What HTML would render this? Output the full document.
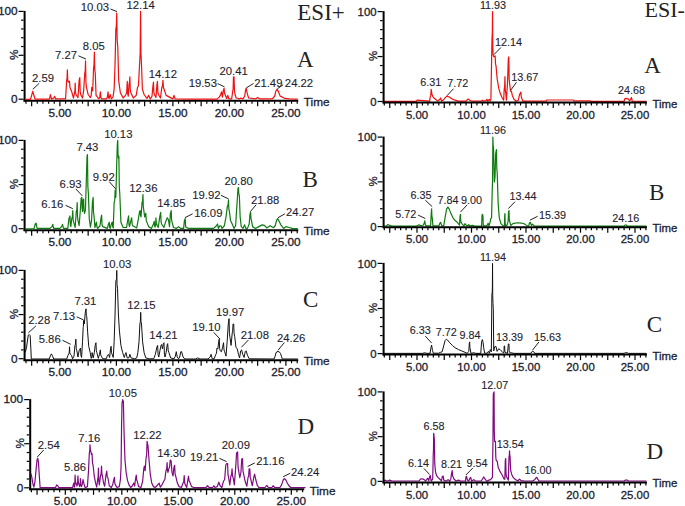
<!DOCTYPE html>
<html><head><meta charset="utf-8"><title>Chromatograms</title>
<style>
html,body{margin:0;padding:0;background:#fff;}
body{width:685px;height:506px;overflow:hidden;font-family:"Liberation Sans",sans-serif;}
svg{display:block;}
</style></head><body>
<svg width="685" height="506" viewBox="0 0 685 506">
<rect width="685" height="506" fill="#fff"/>
<g stroke="#000" fill="none">
<line x1="24.6" y1="10.9" x2="24.6" y2="101.6" stroke-width="2"/>
<line x1="18.6" y1="99.2" x2="23.6" y2="99.2" stroke-width="1.2"/>
<line x1="21.1" y1="90.42" x2="23.6" y2="90.42" stroke-width="1.2"/>
<line x1="21.1" y1="81.64" x2="23.6" y2="81.64" stroke-width="1.2"/>
<line x1="21.1" y1="72.86" x2="23.6" y2="72.86" stroke-width="1.2"/>
<line x1="21.1" y1="64.08" x2="23.6" y2="64.08" stroke-width="1.2"/>
<line x1="18.6" y1="55.3" x2="23.6" y2="55.3" stroke-width="1.2"/>
<line x1="21.1" y1="46.52" x2="23.6" y2="46.52" stroke-width="1.2"/>
<line x1="21.1" y1="37.74" x2="23.6" y2="37.74" stroke-width="1.2"/>
<line x1="21.1" y1="28.96" x2="23.6" y2="28.96" stroke-width="1.2"/>
<line x1="21.1" y1="20.18" x2="23.6" y2="20.18" stroke-width="1.2"/>
<line x1="18.6" y1="11.4" x2="23.6" y2="11.4" stroke-width="1.2"/>
<line x1="23.6" y1="100.7" x2="298.26" y2="100.7" stroke-width="2"/>
<line x1="26" y1="101.2" x2="26" y2="103.7" stroke-width="1.2"/>
<line x1="31.65" y1="101.2" x2="31.65" y2="106.2" stroke-width="1.2"/>
<line x1="37.3" y1="101.2" x2="37.3" y2="103.7" stroke-width="1.2"/>
<line x1="42.95" y1="101.2" x2="42.95" y2="103.7" stroke-width="1.2"/>
<line x1="48.6" y1="101.2" x2="48.6" y2="103.7" stroke-width="1.2"/>
<line x1="54.25" y1="101.2" x2="54.25" y2="103.7" stroke-width="1.2"/>
<line x1="59.9" y1="101.2" x2="59.9" y2="106.2" stroke-width="1.2"/>
<line x1="65.55" y1="101.2" x2="65.55" y2="103.7" stroke-width="1.2"/>
<line x1="71.2" y1="101.2" x2="71.2" y2="103.7" stroke-width="1.2"/>
<line x1="76.85" y1="101.2" x2="76.85" y2="103.7" stroke-width="1.2"/>
<line x1="82.5" y1="101.2" x2="82.5" y2="103.7" stroke-width="1.2"/>
<line x1="88.15" y1="101.2" x2="88.15" y2="106.2" stroke-width="1.2"/>
<line x1="93.8" y1="101.2" x2="93.8" y2="103.7" stroke-width="1.2"/>
<line x1="99.45" y1="101.2" x2="99.45" y2="103.7" stroke-width="1.2"/>
<line x1="105.1" y1="101.2" x2="105.1" y2="103.7" stroke-width="1.2"/>
<line x1="110.75" y1="101.2" x2="110.75" y2="103.7" stroke-width="1.2"/>
<line x1="116.4" y1="101.2" x2="116.4" y2="106.2" stroke-width="1.2"/>
<line x1="122.05" y1="101.2" x2="122.05" y2="103.7" stroke-width="1.2"/>
<line x1="127.7" y1="101.2" x2="127.7" y2="103.7" stroke-width="1.2"/>
<line x1="133.35" y1="101.2" x2="133.35" y2="103.7" stroke-width="1.2"/>
<line x1="139" y1="101.2" x2="139" y2="103.7" stroke-width="1.2"/>
<line x1="144.65" y1="101.2" x2="144.65" y2="106.2" stroke-width="1.2"/>
<line x1="150.3" y1="101.2" x2="150.3" y2="103.7" stroke-width="1.2"/>
<line x1="155.95" y1="101.2" x2="155.95" y2="103.7" stroke-width="1.2"/>
<line x1="161.6" y1="101.2" x2="161.6" y2="103.7" stroke-width="1.2"/>
<line x1="167.25" y1="101.2" x2="167.25" y2="103.7" stroke-width="1.2"/>
<line x1="172.9" y1="101.2" x2="172.9" y2="106.2" stroke-width="1.2"/>
<line x1="178.55" y1="101.2" x2="178.55" y2="103.7" stroke-width="1.2"/>
<line x1="184.2" y1="101.2" x2="184.2" y2="103.7" stroke-width="1.2"/>
<line x1="189.85" y1="101.2" x2="189.85" y2="103.7" stroke-width="1.2"/>
<line x1="195.5" y1="101.2" x2="195.5" y2="103.7" stroke-width="1.2"/>
<line x1="201.15" y1="101.2" x2="201.15" y2="106.2" stroke-width="1.2"/>
<line x1="206.8" y1="101.2" x2="206.8" y2="103.7" stroke-width="1.2"/>
<line x1="212.45" y1="101.2" x2="212.45" y2="103.7" stroke-width="1.2"/>
<line x1="218.1" y1="101.2" x2="218.1" y2="103.7" stroke-width="1.2"/>
<line x1="223.75" y1="101.2" x2="223.75" y2="103.7" stroke-width="1.2"/>
<line x1="229.4" y1="101.2" x2="229.4" y2="106.2" stroke-width="1.2"/>
<line x1="235.05" y1="101.2" x2="235.05" y2="103.7" stroke-width="1.2"/>
<line x1="240.7" y1="101.2" x2="240.7" y2="103.7" stroke-width="1.2"/>
<line x1="246.35" y1="101.2" x2="246.35" y2="103.7" stroke-width="1.2"/>
<line x1="252" y1="101.2" x2="252" y2="103.7" stroke-width="1.2"/>
<line x1="257.65" y1="101.2" x2="257.65" y2="106.2" stroke-width="1.2"/>
<line x1="263.3" y1="101.2" x2="263.3" y2="103.7" stroke-width="1.2"/>
<line x1="268.95" y1="101.2" x2="268.95" y2="103.7" stroke-width="1.2"/>
<line x1="274.6" y1="101.2" x2="274.6" y2="103.7" stroke-width="1.2"/>
<line x1="280.25" y1="101.2" x2="280.25" y2="103.7" stroke-width="1.2"/>
<line x1="285.9" y1="101.2" x2="285.9" y2="106.2" stroke-width="1.2"/>
<line x1="291.55" y1="101.2" x2="291.55" y2="103.7" stroke-width="1.2"/>
<line x1="297.2" y1="101.2" x2="297.2" y2="103.7" stroke-width="1.2"/>
</g>
<polyline points="24.98,99.36 30.52,99.36 31.88,94.5 32.67,91.4 33.68,94.5 35.04,99.09 49.5,99.09 50.41,94.67 51.54,99.09 53.69,98.03 54.59,96.26 55.61,98.92 65.55,98.92 66.68,80.35 67.07,78.23 67.36,69.74 67.74,79.64 68.26,82.12 69.5,81.24 69.98,87.6 70.64,89.19 71.77,91.84 73.46,98.03 74.59,92.73 74.92,90.78 75.16,83 75.49,92.2 75.95,94.5 77.98,97.59 79.11,80.35 79.79,77.7 80.17,91.14 80.69,94.5 82.5,98.03 83.63,90.96 84.76,73.28 85.22,70.8 85.55,60.9 85.93,82.12 86.45,87.42 88.15,94.5 90.41,97.59 91.2,95.56 91.77,87.42 92.67,90.96 93.57,67.98 94.03,64.79 94.37,52.06 94.74,69.04 95.27,73.28 96.06,95.38 98.88,98.92 99.74,97.5 100.35,91.84 100.92,97.5 101.71,98.92 106.23,98.92 107.28,97.5 108.04,91.84 108.47,97.15 109.06,98.47 110.19,94.5 111.32,98.92 113.01,97.15 114.14,89.19 115.04,64.44 115.83,29.08 116.36,25.9 116.74,13.17 117.17,40.04 117.76,46.76 118.66,80.35 120.35,92.73 123.18,98.03 126,94.5 126.73,91.84 127.25,81.24 127.68,93.26 128.27,96.26 129.06,83.89 129.51,82.47 129.85,76.82 130.27,89.55 130.86,92.73 133.35,98.03 136.18,95.38 137.53,87.42 138.44,85.66 139.56,64.44 140.15,53.83 140.58,11.4 140.96,53.83 141.49,64.44 142.39,89.19 144.09,94.5 146.91,98.47 148.6,95.38 150.3,98.92 152,96.26 152.79,87.42 153.46,82.12 153.84,92.02 154.37,94.5 155.95,97.59 156.85,85.66 157.42,81.24 157.85,91.84 158.44,94.5 160.47,98.03 161.83,87.42 162.48,86.01 162.96,80.35 163.43,87.42 164.09,89.19 166.12,95.38 169.51,97.15 172.9,98.92 173.92,95.38 175.16,98.92 189.85,99.09 216.97,99.09 219.23,97.15 220.36,95.38 221.49,91.84 222.39,97.15 223.19,90.96 224.09,88.31 224.52,93.26 225.11,94.5 226.58,98.47 227.82,95.38 228.84,98.92 231.66,98.92 232.79,90.96 233.18,88.13 233.47,76.82 234.03,76.82 234.46,90.96 235.05,94.5 236.18,98.03 239.57,98.92 240.7,98.03 242.96,98.92 244.66,96.26 245.56,90.08 246.24,88.31 247.25,93.61 248.61,98.03 255.39,98.92 257.65,97.59 259.91,98.92 272.34,98.92 274.6,96.26 275.96,90.96 277.09,89.19 278.56,91.84 280.25,96.26 282.51,97.15 284.77,98.47 289.29,98.92 297.76,99.09" fill="none" stroke="#f01010" stroke-width="1.2" stroke-linejoin="round"/>
<g font-family="Liberation Sans, sans-serif" font-size="11.8" fill="#201c30" stroke="#201c30" stroke-width="0.3">
<text x="59.9" y="117.3" text-anchor="middle">5.00</text>
<text x="116.4" y="117.3" text-anchor="middle">10.00</text>
<text x="172.9" y="117.3" text-anchor="middle">15.00</text>
<text x="229.4" y="117.3" text-anchor="middle">20.00</text>
<text x="285.9" y="117.3" text-anchor="middle">25.00</text>
<text x="17.6" y="15" text-anchor="end">100</text>
<text x="17.6" y="103.3" text-anchor="end">0</text>
<text transform="translate(18,54.8) rotate(-90)" text-anchor="middle">%</text>
<text x="303.76" y="105.9">Time</text>
<text x="94.9" y="11.3" text-anchor="middle" font-size="11.3" stroke-width="0.1" fill="#26222c">10.03</text>
<text x="140.7" y="8.7" text-anchor="middle" font-size="11.3" stroke-width="0.1" fill="#26222c">12.14</text>
<text x="93.8" y="50.4" text-anchor="middle" font-size="11.3" stroke-width="0.1" fill="#26222c">8.05</text>
<text x="66" y="58.6" text-anchor="middle" font-size="11.3" stroke-width="0.1" fill="#26222c">7.27</text>
<text x="43" y="82" text-anchor="middle" font-size="11.3" stroke-width="0.1" fill="#26222c">2.59</text>
<text x="162.8" y="77.6" text-anchor="middle" font-size="11.3" stroke-width="0.1" fill="#26222c">14.12</text>
<text x="202.8" y="86.9" text-anchor="middle" font-size="11.3" stroke-width="0.1" fill="#26222c">19.53</text>
<text x="233.6" y="75.3" text-anchor="middle" font-size="11.3" stroke-width="0.1" fill="#26222c">20.41</text>
<text x="268.3" y="86.9" text-anchor="middle" font-size="11.3" stroke-width="0.1" fill="#26222c">21.49</text>
<text x="299" y="86.9" text-anchor="middle" font-size="11.3" stroke-width="0.1" fill="#26222c">24.22</text>
</g>
<g stroke="#222" stroke-width="1" fill="none">
<line x1="110.5" y1="9" x2="117" y2="11.6"/>
<line x1="78.4" y1="55.8" x2="86.1" y2="59.1"/>
<line x1="39.2" y1="83.3" x2="32.8" y2="89.3"/>
<line x1="217.6" y1="83.5" x2="224.5" y2="86.9"/>
<line x1="253.5" y1="83.5" x2="246.3" y2="87.9"/>
<line x1="283.1" y1="84.8" x2="277.5" y2="88.7"/>
</g>
<g stroke="#000" fill="none">
<line x1="24.6" y1="139.9" x2="24.6" y2="231.1" stroke-width="2"/>
<line x1="18.6" y1="228.7" x2="23.6" y2="228.7" stroke-width="1.2"/>
<line x1="21.1" y1="219.87" x2="23.6" y2="219.87" stroke-width="1.2"/>
<line x1="21.1" y1="211.04" x2="23.6" y2="211.04" stroke-width="1.2"/>
<line x1="21.1" y1="202.21" x2="23.6" y2="202.21" stroke-width="1.2"/>
<line x1="21.1" y1="193.38" x2="23.6" y2="193.38" stroke-width="1.2"/>
<line x1="18.6" y1="184.55" x2="23.6" y2="184.55" stroke-width="1.2"/>
<line x1="21.1" y1="175.72" x2="23.6" y2="175.72" stroke-width="1.2"/>
<line x1="21.1" y1="166.89" x2="23.6" y2="166.89" stroke-width="1.2"/>
<line x1="21.1" y1="158.06" x2="23.6" y2="158.06" stroke-width="1.2"/>
<line x1="21.1" y1="149.23" x2="23.6" y2="149.23" stroke-width="1.2"/>
<line x1="18.6" y1="140.4" x2="23.6" y2="140.4" stroke-width="1.2"/>
<line x1="23.6" y1="230.2" x2="298.26" y2="230.2" stroke-width="2"/>
<line x1="26" y1="230.7" x2="26" y2="233.2" stroke-width="1.2"/>
<line x1="31.65" y1="230.7" x2="31.65" y2="235.7" stroke-width="1.2"/>
<line x1="37.3" y1="230.7" x2="37.3" y2="233.2" stroke-width="1.2"/>
<line x1="42.95" y1="230.7" x2="42.95" y2="233.2" stroke-width="1.2"/>
<line x1="48.6" y1="230.7" x2="48.6" y2="233.2" stroke-width="1.2"/>
<line x1="54.25" y1="230.7" x2="54.25" y2="233.2" stroke-width="1.2"/>
<line x1="59.9" y1="230.7" x2="59.9" y2="235.7" stroke-width="1.2"/>
<line x1="65.55" y1="230.7" x2="65.55" y2="233.2" stroke-width="1.2"/>
<line x1="71.2" y1="230.7" x2="71.2" y2="233.2" stroke-width="1.2"/>
<line x1="76.85" y1="230.7" x2="76.85" y2="233.2" stroke-width="1.2"/>
<line x1="82.5" y1="230.7" x2="82.5" y2="233.2" stroke-width="1.2"/>
<line x1="88.15" y1="230.7" x2="88.15" y2="235.7" stroke-width="1.2"/>
<line x1="93.8" y1="230.7" x2="93.8" y2="233.2" stroke-width="1.2"/>
<line x1="99.45" y1="230.7" x2="99.45" y2="233.2" stroke-width="1.2"/>
<line x1="105.1" y1="230.7" x2="105.1" y2="233.2" stroke-width="1.2"/>
<line x1="110.75" y1="230.7" x2="110.75" y2="233.2" stroke-width="1.2"/>
<line x1="116.4" y1="230.7" x2="116.4" y2="235.7" stroke-width="1.2"/>
<line x1="122.05" y1="230.7" x2="122.05" y2="233.2" stroke-width="1.2"/>
<line x1="127.7" y1="230.7" x2="127.7" y2="233.2" stroke-width="1.2"/>
<line x1="133.35" y1="230.7" x2="133.35" y2="233.2" stroke-width="1.2"/>
<line x1="139" y1="230.7" x2="139" y2="233.2" stroke-width="1.2"/>
<line x1="144.65" y1="230.7" x2="144.65" y2="235.7" stroke-width="1.2"/>
<line x1="150.3" y1="230.7" x2="150.3" y2="233.2" stroke-width="1.2"/>
<line x1="155.95" y1="230.7" x2="155.95" y2="233.2" stroke-width="1.2"/>
<line x1="161.6" y1="230.7" x2="161.6" y2="233.2" stroke-width="1.2"/>
<line x1="167.25" y1="230.7" x2="167.25" y2="233.2" stroke-width="1.2"/>
<line x1="172.9" y1="230.7" x2="172.9" y2="235.7" stroke-width="1.2"/>
<line x1="178.55" y1="230.7" x2="178.55" y2="233.2" stroke-width="1.2"/>
<line x1="184.2" y1="230.7" x2="184.2" y2="233.2" stroke-width="1.2"/>
<line x1="189.85" y1="230.7" x2="189.85" y2="233.2" stroke-width="1.2"/>
<line x1="195.5" y1="230.7" x2="195.5" y2="233.2" stroke-width="1.2"/>
<line x1="201.15" y1="230.7" x2="201.15" y2="235.7" stroke-width="1.2"/>
<line x1="206.8" y1="230.7" x2="206.8" y2="233.2" stroke-width="1.2"/>
<line x1="212.45" y1="230.7" x2="212.45" y2="233.2" stroke-width="1.2"/>
<line x1="218.1" y1="230.7" x2="218.1" y2="233.2" stroke-width="1.2"/>
<line x1="223.75" y1="230.7" x2="223.75" y2="233.2" stroke-width="1.2"/>
<line x1="229.4" y1="230.7" x2="229.4" y2="235.7" stroke-width="1.2"/>
<line x1="235.05" y1="230.7" x2="235.05" y2="233.2" stroke-width="1.2"/>
<line x1="240.7" y1="230.7" x2="240.7" y2="233.2" stroke-width="1.2"/>
<line x1="246.35" y1="230.7" x2="246.35" y2="233.2" stroke-width="1.2"/>
<line x1="252" y1="230.7" x2="252" y2="233.2" stroke-width="1.2"/>
<line x1="257.65" y1="230.7" x2="257.65" y2="235.7" stroke-width="1.2"/>
<line x1="263.3" y1="230.7" x2="263.3" y2="233.2" stroke-width="1.2"/>
<line x1="268.95" y1="230.7" x2="268.95" y2="233.2" stroke-width="1.2"/>
<line x1="274.6" y1="230.7" x2="274.6" y2="233.2" stroke-width="1.2"/>
<line x1="280.25" y1="230.7" x2="280.25" y2="233.2" stroke-width="1.2"/>
<line x1="285.9" y1="230.7" x2="285.9" y2="235.7" stroke-width="1.2"/>
<line x1="291.55" y1="230.7" x2="291.55" y2="233.2" stroke-width="1.2"/>
<line x1="297.2" y1="230.7" x2="297.2" y2="233.2" stroke-width="1.2"/>
</g>
<polyline points="24.98,228.86 33.91,228.86 35.27,223.97 36.06,223.08 37.07,228.41 49.73,228.41 51.99,226.63 52.78,224.41 53.57,228.41 59.9,228.41 61.6,226.63 62.5,224.41 63.52,228.41 67.81,228.41 68.94,218.63 69.96,215.96 70.34,224.5 70.86,226.63 71.77,218.63 72.35,217.03 72.78,210.63 73.16,219.88 73.69,222.19 75.16,227.52 76.28,211.52 76.81,209.74 77.19,202.63 77.52,216.85 77.98,220.41 79.11,225.74 80.24,211.52 81.14,198.19 81.82,197.3 82.11,208.68 82.5,211.52 83.06,199.96 83.63,199.07 84.01,210.45 84.53,213.3 85.44,209.74 86.45,175.96 87.02,156.4 87.47,154.62 87.85,185.92 88.38,193.74 89.28,218.63 90.41,227.08 91.54,220.41 92.44,202.63 93.12,197.3 93.5,212.23 94.03,215.96 94.93,227.52 96.4,222.19 96.97,227.17 97.75,228.41 100.02,225.74 100.92,218.63 101.6,215.08 102.02,224.32 102.61,226.63 107.36,228.41 108.49,223.97 109.28,222.19 109.66,227.17 110.19,228.41 111.65,223.08 112.33,222.19 112.71,226.81 113.24,227.97 114.14,202.63 114.73,200.14 115.16,190.18 115.44,195.87 115.83,197.3 116.63,167.07 117.3,144.84 117.76,140.4 118.04,154.62 118.43,158.18 118.89,156.4 119.27,186.27 119.79,193.74 120.92,222.19 123.18,227.52 126.57,227.52 127.7,220.41 128.6,215.96 128.98,224.5 129.51,226.63 130.53,222.19 131.66,217.74 132.13,224.14 132.78,225.74 136.74,227.97 138.44,218.63 139.56,211.52 140.13,210.63 140.51,215.61 141.03,216.85 142.05,202.63 142.58,201.03 142.96,194.63 143.29,206.72 143.75,209.74 144.65,216.85 145.78,213.3 146.25,220.41 146.91,222.19 148.6,226.63 151.43,228.41 153.46,223.97 154.25,221.3 154.59,225.92 155.05,227.08 155.57,225.21 155.95,217.74 156.33,223.43 156.85,224.85 158.21,227.52 159.91,215.96 160.7,212.41 161.08,221.65 161.6,223.97 163.86,227.52 166.12,220.41 167.25,217.74 168.38,219.52 169.51,226.63 170.41,213.3 171.21,210.63 171.58,219.88 172.11,222.19 173.47,227.52 176.29,228.41 178.55,226.63 180.81,228.41 183.63,228.41 184.43,220.41 185.22,218.63 185.6,225.74 186.12,227.52 188.72,228.41 213.58,228.41 216.41,225.74 217.53,223.97 218.44,228.41 219.79,225.74 220.93,225.74 222.06,228.41 224.32,225.74 226.01,216.85 227.37,206.19 228.02,204.94 228.5,199.96 228.88,209.21 229.4,211.52 230.53,220.41 232.23,223.97 233.92,228.41 235.62,225.74 237.08,202.63 237.99,188.41 238.44,187.52 238.82,193.92 239.34,195.52 240.14,216.85 241.27,226.63 242.96,228.41 244.66,224.85 245.78,228.41 247.48,228.41 249.18,223.97 250.08,213.3 250.64,212.41 250.98,218.81 251.44,220.41 252.57,226.63 255.39,228.41 258.78,226.63 262.17,224.85 264.43,225.3 266.69,227.97 270.08,225.74 273.47,227.74 275.17,225.74 276.63,220.41 277.65,218.63 279.12,221.3 280.81,224.85 283.64,228.41 285.9,226.63 289.29,227.52 292.68,228.59 297.76,228.59" fill="none" stroke="#0f7a0f" stroke-width="1.2" stroke-linejoin="round"/>
<g font-family="Liberation Sans, sans-serif" font-size="11.8" fill="#201c30" stroke="#201c30" stroke-width="0.3">
<text x="59.9" y="245.6" text-anchor="middle">5.00</text>
<text x="116.4" y="245.6" text-anchor="middle">10.00</text>
<text x="172.9" y="245.6" text-anchor="middle">15.00</text>
<text x="229.4" y="245.6" text-anchor="middle">20.00</text>
<text x="285.9" y="245.6" text-anchor="middle">25.00</text>
<text x="17.6" y="144" text-anchor="end">100</text>
<text x="17.6" y="232.8" text-anchor="end">0</text>
<text transform="translate(18,184.05) rotate(-90)" text-anchor="middle">%</text>
<text x="303.76" y="235.4">Time</text>
<text x="118.3" y="137.5" text-anchor="middle" font-size="11.3" stroke-width="0.1" fill="#26222c">10.13</text>
<text x="87.4" y="151.1" text-anchor="middle" font-size="11.3" stroke-width="0.1" fill="#26222c">7.43</text>
<text x="103.7" y="181.2" text-anchor="middle" font-size="11.3" stroke-width="0.1" fill="#26222c">9.92</text>
<text x="70.6" y="187.9" text-anchor="middle" font-size="11.3" stroke-width="0.1" fill="#26222c">6.93</text>
<text x="52.3" y="208.2" text-anchor="middle" font-size="11.3" stroke-width="0.1" fill="#26222c">6.16</text>
<text x="143.3" y="191.5" text-anchor="middle" font-size="11.3" stroke-width="0.1" fill="#26222c">12.36</text>
<text x="171.3" y="207.1" text-anchor="middle" font-size="11.3" stroke-width="0.1" fill="#26222c">14.85</text>
<text x="208.3" y="216.6" text-anchor="middle" font-size="11.3" stroke-width="0.1" fill="#26222c">16.09</text>
<text x="206.4" y="198.6" text-anchor="middle" font-size="11.3" stroke-width="0.1" fill="#26222c">19.92</text>
<text x="238.6" y="185.3" text-anchor="middle" font-size="11.3" stroke-width="0.1" fill="#26222c">20.80</text>
<text x="265.1" y="204.3" text-anchor="middle" font-size="11.3" stroke-width="0.1" fill="#26222c">21.88</text>
<text x="300.1" y="215.9" text-anchor="middle" font-size="11.3" stroke-width="0.1" fill="#26222c">24.27</text>
</g>
<g stroke="#222" stroke-width="1" fill="none">
<line x1="109.3" y1="181.7" x2="115.7" y2="188.9"/>
<line x1="75.8" y1="188.9" x2="82.3" y2="195.8"/>
<line x1="65.6" y1="205.3" x2="72.8" y2="208.7"/>
<line x1="192.6" y1="213.8" x2="184.9" y2="217.7"/>
<line x1="220.9" y1="195.3" x2="228.6" y2="198.9"/>
<line x1="256.1" y1="204.8" x2="250.2" y2="211.8"/>
<line x1="284.9" y1="213.8" x2="278" y2="217.7"/>
</g>
<g stroke="#000" fill="none">
<line x1="24.6" y1="269.9" x2="24.6" y2="361.1" stroke-width="2"/>
<line x1="18.6" y1="358.7" x2="23.6" y2="358.7" stroke-width="1.2"/>
<line x1="21.1" y1="349.87" x2="23.6" y2="349.87" stroke-width="1.2"/>
<line x1="21.1" y1="341.04" x2="23.6" y2="341.04" stroke-width="1.2"/>
<line x1="21.1" y1="332.21" x2="23.6" y2="332.21" stroke-width="1.2"/>
<line x1="21.1" y1="323.38" x2="23.6" y2="323.38" stroke-width="1.2"/>
<line x1="18.6" y1="314.55" x2="23.6" y2="314.55" stroke-width="1.2"/>
<line x1="21.1" y1="305.72" x2="23.6" y2="305.72" stroke-width="1.2"/>
<line x1="21.1" y1="296.89" x2="23.6" y2="296.89" stroke-width="1.2"/>
<line x1="21.1" y1="288.06" x2="23.6" y2="288.06" stroke-width="1.2"/>
<line x1="21.1" y1="279.23" x2="23.6" y2="279.23" stroke-width="1.2"/>
<line x1="18.6" y1="270.4" x2="23.6" y2="270.4" stroke-width="1.2"/>
<line x1="23.6" y1="360.2" x2="298.26" y2="360.2" stroke-width="2"/>
<line x1="26" y1="360.7" x2="26" y2="363.2" stroke-width="1.2"/>
<line x1="31.65" y1="360.7" x2="31.65" y2="365.7" stroke-width="1.2"/>
<line x1="37.3" y1="360.7" x2="37.3" y2="363.2" stroke-width="1.2"/>
<line x1="42.95" y1="360.7" x2="42.95" y2="363.2" stroke-width="1.2"/>
<line x1="48.6" y1="360.7" x2="48.6" y2="363.2" stroke-width="1.2"/>
<line x1="54.25" y1="360.7" x2="54.25" y2="363.2" stroke-width="1.2"/>
<line x1="59.9" y1="360.7" x2="59.9" y2="365.7" stroke-width="1.2"/>
<line x1="65.55" y1="360.7" x2="65.55" y2="363.2" stroke-width="1.2"/>
<line x1="71.2" y1="360.7" x2="71.2" y2="363.2" stroke-width="1.2"/>
<line x1="76.85" y1="360.7" x2="76.85" y2="363.2" stroke-width="1.2"/>
<line x1="82.5" y1="360.7" x2="82.5" y2="363.2" stroke-width="1.2"/>
<line x1="88.15" y1="360.7" x2="88.15" y2="365.7" stroke-width="1.2"/>
<line x1="93.8" y1="360.7" x2="93.8" y2="363.2" stroke-width="1.2"/>
<line x1="99.45" y1="360.7" x2="99.45" y2="363.2" stroke-width="1.2"/>
<line x1="105.1" y1="360.7" x2="105.1" y2="363.2" stroke-width="1.2"/>
<line x1="110.75" y1="360.7" x2="110.75" y2="363.2" stroke-width="1.2"/>
<line x1="116.4" y1="360.7" x2="116.4" y2="365.7" stroke-width="1.2"/>
<line x1="122.05" y1="360.7" x2="122.05" y2="363.2" stroke-width="1.2"/>
<line x1="127.7" y1="360.7" x2="127.7" y2="363.2" stroke-width="1.2"/>
<line x1="133.35" y1="360.7" x2="133.35" y2="363.2" stroke-width="1.2"/>
<line x1="139" y1="360.7" x2="139" y2="363.2" stroke-width="1.2"/>
<line x1="144.65" y1="360.7" x2="144.65" y2="365.7" stroke-width="1.2"/>
<line x1="150.3" y1="360.7" x2="150.3" y2="363.2" stroke-width="1.2"/>
<line x1="155.95" y1="360.7" x2="155.95" y2="363.2" stroke-width="1.2"/>
<line x1="161.6" y1="360.7" x2="161.6" y2="363.2" stroke-width="1.2"/>
<line x1="167.25" y1="360.7" x2="167.25" y2="363.2" stroke-width="1.2"/>
<line x1="172.9" y1="360.7" x2="172.9" y2="365.7" stroke-width="1.2"/>
<line x1="178.55" y1="360.7" x2="178.55" y2="363.2" stroke-width="1.2"/>
<line x1="184.2" y1="360.7" x2="184.2" y2="363.2" stroke-width="1.2"/>
<line x1="189.85" y1="360.7" x2="189.85" y2="363.2" stroke-width="1.2"/>
<line x1="195.5" y1="360.7" x2="195.5" y2="363.2" stroke-width="1.2"/>
<line x1="201.15" y1="360.7" x2="201.15" y2="365.7" stroke-width="1.2"/>
<line x1="206.8" y1="360.7" x2="206.8" y2="363.2" stroke-width="1.2"/>
<line x1="212.45" y1="360.7" x2="212.45" y2="363.2" stroke-width="1.2"/>
<line x1="218.1" y1="360.7" x2="218.1" y2="363.2" stroke-width="1.2"/>
<line x1="223.75" y1="360.7" x2="223.75" y2="363.2" stroke-width="1.2"/>
<line x1="229.4" y1="360.7" x2="229.4" y2="365.7" stroke-width="1.2"/>
<line x1="235.05" y1="360.7" x2="235.05" y2="363.2" stroke-width="1.2"/>
<line x1="240.7" y1="360.7" x2="240.7" y2="363.2" stroke-width="1.2"/>
<line x1="246.35" y1="360.7" x2="246.35" y2="363.2" stroke-width="1.2"/>
<line x1="252" y1="360.7" x2="252" y2="363.2" stroke-width="1.2"/>
<line x1="257.65" y1="360.7" x2="257.65" y2="365.7" stroke-width="1.2"/>
<line x1="263.3" y1="360.7" x2="263.3" y2="363.2" stroke-width="1.2"/>
<line x1="268.95" y1="360.7" x2="268.95" y2="363.2" stroke-width="1.2"/>
<line x1="274.6" y1="360.7" x2="274.6" y2="363.2" stroke-width="1.2"/>
<line x1="280.25" y1="360.7" x2="280.25" y2="363.2" stroke-width="1.2"/>
<line x1="285.9" y1="360.7" x2="285.9" y2="365.7" stroke-width="1.2"/>
<line x1="291.55" y1="360.7" x2="291.55" y2="363.2" stroke-width="1.2"/>
<line x1="297.2" y1="360.7" x2="297.2" y2="363.2" stroke-width="1.2"/>
</g>
<polyline points="24.98,352.56 25.77,350.77 26.56,347.2 28.26,335.14 29.39,334.7 30.18,335.59 30.86,348.98 31.31,358.99 49.16,358.99 50.63,355.24 51.42,353.9 52.55,356.13 53.69,358.99 66.68,358.99 68.04,355.24 68.94,353.45 69.27,352.11 69.5,346.75 69.84,352.82 70.3,354.34 71.54,355.24 72.56,358.81 74.03,356.13 74.93,345.41 75.45,344.16 75.83,339.16 76.26,348.45 76.85,350.77 77.98,357.02 79.11,350.77 80.47,348.09 80.94,355.59 81.6,357.47 82.5,341.84 83.18,327.55 83.44,326.12 83.63,320.41 84.31,323.98 85.21,313.26 86,308.8 86.34,315.23 86.79,316.84 87.7,332.91 88.72,346.31 90.18,352.56 91.2,358.36 91.73,357.2 92.1,352.56 93.23,357.91 94.37,352.56 95.16,345.41 95.95,342.73 96.33,350.59 96.85,352.56 98.32,358.36 99.45,354.34 100.35,349.88 100.73,354.88 101.26,356.13 102.84,358.81 106.23,358.81 107.59,355.24 108.49,354.34 109.62,357.47 110.52,348.98 111.09,346.31 111.52,352.73 112.11,354.34 113.24,357.47 114.14,341.84 115.04,315.05 115.83,281.12 116.4,279.33 116.6,277.54 116.74,270.4 117.07,284.69 117.53,288.26 118.43,315.05 119.45,331.12 120.92,345.41 122.62,352.56 124.31,357.47 125.21,354.34 126,352.56 127.13,357.91 128.83,357.91 129.85,354.34 131.09,357.91 134.48,358.81 136.74,357.91 137.87,352.56 139,341.84 139.9,323.98 140.36,321.66 140.7,312.37 141.03,321.66 141.49,323.98 142.62,341.84 144.09,352.56 145.78,357.91 149.17,358.81 153.69,358.81 155.38,354.34 156.85,347.2 157.65,345.41 158.12,354.7 158.78,357.02 159.91,350.77 161.03,345.41 161.6,344.52 162.5,348.98 163.3,343.63 163.97,342.73 164.4,354.16 164.99,357.02 166.12,352.56 167.25,344.52 167.7,343.63 168.22,350.77 168.95,352.56 170.64,357.91 174.03,358.81 175.39,356.13 176.29,351.66 177.19,357.02 178.55,358.81 179.68,357.02 180.81,351.66 181.6,351.66 183.07,357.02 184.77,358.99 195.5,358.99 197.76,357.91 200.02,358.99 207.93,358.99 210.19,357.02 211.09,354.34 212.22,358.81 214.15,358.81 215.84,354.34 216.5,353.09 216.97,348.09 217.87,348.98 218.67,341.84 219.23,339.16 219.61,348.45 220.13,350.77 221.49,351.66 222.62,347.2 223.52,342.73 224,349.88 224.65,351.66 226.01,356.13 227.14,341.84 228.27,323.98 229.06,318.62 229.44,333.62 229.97,337.38 231.09,345.41 232.23,332.91 232.68,331.12 233.02,323.98 233.69,323.98 234.12,333.98 234.71,336.48 235.95,347.2 237.31,348.98 238.44,354.34 239.57,357.91 240.7,350.77 241.6,349.88 242.73,354.34 244.09,357.47 245.22,351.66 246.12,350.77 247.48,355.24 249.18,358.81 274.04,358.99 275.17,356.13 275.96,353 276.86,351.66 279.12,351.66 280.48,353.45 281.38,356.13 282.28,358.99 297.76,358.99" fill="none" stroke="#111111" stroke-width="1.0" stroke-linejoin="round"/>
<g font-family="Liberation Sans, sans-serif" font-size="11.8" fill="#201c30" stroke="#201c30" stroke-width="0.3">
<text x="59.9" y="375.6" text-anchor="middle">5.00</text>
<text x="116.4" y="375.6" text-anchor="middle">10.00</text>
<text x="172.9" y="375.6" text-anchor="middle">15.00</text>
<text x="229.4" y="375.6" text-anchor="middle">20.00</text>
<text x="285.9" y="375.6" text-anchor="middle">25.00</text>
<text x="17.6" y="274" text-anchor="end">100</text>
<text x="17.6" y="362.8" text-anchor="end">0</text>
<text transform="translate(18,314.05) rotate(-90)" text-anchor="middle">%</text>
<text x="303.76" y="365.4">Time</text>
<text x="117.2" y="267.5" text-anchor="middle" font-size="11.3" stroke-width="0.1" fill="#26222c">10.03</text>
<text x="85.4" y="304.7" text-anchor="middle" font-size="11.3" stroke-width="0.1" fill="#26222c">7.31</text>
<text x="64" y="319.7" text-anchor="middle" font-size="11.3" stroke-width="0.1" fill="#26222c">7.13</text>
<text x="39.2" y="324" text-anchor="middle" font-size="11.3" stroke-width="0.1" fill="#26222c">2.28</text>
<text x="49.7" y="343.3" text-anchor="middle" font-size="11.3" stroke-width="0.1" fill="#26222c">5.86</text>
<text x="141.4" y="309.4" text-anchor="middle" font-size="11.3" stroke-width="0.1" fill="#26222c">12.15</text>
<text x="163.5" y="338.9" text-anchor="middle" font-size="11.3" stroke-width="0.1" fill="#26222c">14.21</text>
<text x="206.4" y="331.2" text-anchor="middle" font-size="11.3" stroke-width="0.1" fill="#26222c">19.10</text>
<text x="230.1" y="315.8" text-anchor="middle" font-size="11.3" stroke-width="0.1" fill="#26222c">19.97</text>
<text x="254.8" y="338.9" text-anchor="middle" font-size="11.3" stroke-width="0.1" fill="#26222c">21.08</text>
<text x="291.2" y="341.5" text-anchor="middle" font-size="11.3" stroke-width="0.1" fill="#26222c">24.26</text>
</g>
<g stroke="#222" stroke-width="1" fill="none">
<line x1="76.6" y1="316.8" x2="83.5" y2="319.9"/>
<line x1="35.9" y1="325.9" x2="28.3" y2="332.9"/>
<line x1="62.5" y1="340.3" x2="70.7" y2="344.3"/>
<line x1="213.7" y1="332.3" x2="220.1" y2="339.2"/>
<line x1="248.4" y1="340" x2="241.5" y2="347.2"/>
<line x1="284.4" y1="342.5" x2="278" y2="350.3"/>
</g>
<g stroke="#000" fill="none">
<line x1="30.2" y1="399.1" x2="30.2" y2="490.2" stroke-width="2"/>
<line x1="24.2" y1="487.8" x2="29.2" y2="487.8" stroke-width="1.2"/>
<line x1="26.7" y1="478.98" x2="29.2" y2="478.98" stroke-width="1.2"/>
<line x1="26.7" y1="470.16" x2="29.2" y2="470.16" stroke-width="1.2"/>
<line x1="26.7" y1="461.34" x2="29.2" y2="461.34" stroke-width="1.2"/>
<line x1="26.7" y1="452.52" x2="29.2" y2="452.52" stroke-width="1.2"/>
<line x1="24.2" y1="443.7" x2="29.2" y2="443.7" stroke-width="1.2"/>
<line x1="26.7" y1="434.88" x2="29.2" y2="434.88" stroke-width="1.2"/>
<line x1="26.7" y1="426.06" x2="29.2" y2="426.06" stroke-width="1.2"/>
<line x1="26.7" y1="417.24" x2="29.2" y2="417.24" stroke-width="1.2"/>
<line x1="26.7" y1="408.42" x2="29.2" y2="408.42" stroke-width="1.2"/>
<line x1="24.2" y1="399.6" x2="29.2" y2="399.6" stroke-width="1.2"/>
<line x1="29.2" y1="489.3" x2="304.23" y2="489.3" stroke-width="2"/>
<line x1="31.4" y1="489.8" x2="31.4" y2="492.3" stroke-width="1.2"/>
<line x1="37.05" y1="489.8" x2="37.05" y2="494.8" stroke-width="1.2"/>
<line x1="42.7" y1="489.8" x2="42.7" y2="492.3" stroke-width="1.2"/>
<line x1="48.35" y1="489.8" x2="48.35" y2="492.3" stroke-width="1.2"/>
<line x1="54" y1="489.8" x2="54" y2="492.3" stroke-width="1.2"/>
<line x1="59.65" y1="489.8" x2="59.65" y2="492.3" stroke-width="1.2"/>
<line x1="65.3" y1="489.8" x2="65.3" y2="494.8" stroke-width="1.2"/>
<line x1="70.95" y1="489.8" x2="70.95" y2="492.3" stroke-width="1.2"/>
<line x1="76.6" y1="489.8" x2="76.6" y2="492.3" stroke-width="1.2"/>
<line x1="82.25" y1="489.8" x2="82.25" y2="492.3" stroke-width="1.2"/>
<line x1="87.9" y1="489.8" x2="87.9" y2="492.3" stroke-width="1.2"/>
<line x1="93.55" y1="489.8" x2="93.55" y2="494.8" stroke-width="1.2"/>
<line x1="99.2" y1="489.8" x2="99.2" y2="492.3" stroke-width="1.2"/>
<line x1="104.85" y1="489.8" x2="104.85" y2="492.3" stroke-width="1.2"/>
<line x1="110.5" y1="489.8" x2="110.5" y2="492.3" stroke-width="1.2"/>
<line x1="116.15" y1="489.8" x2="116.15" y2="492.3" stroke-width="1.2"/>
<line x1="121.8" y1="489.8" x2="121.8" y2="494.8" stroke-width="1.2"/>
<line x1="127.45" y1="489.8" x2="127.45" y2="492.3" stroke-width="1.2"/>
<line x1="133.1" y1="489.8" x2="133.1" y2="492.3" stroke-width="1.2"/>
<line x1="138.75" y1="489.8" x2="138.75" y2="492.3" stroke-width="1.2"/>
<line x1="144.4" y1="489.8" x2="144.4" y2="492.3" stroke-width="1.2"/>
<line x1="150.05" y1="489.8" x2="150.05" y2="494.8" stroke-width="1.2"/>
<line x1="155.7" y1="489.8" x2="155.7" y2="492.3" stroke-width="1.2"/>
<line x1="161.35" y1="489.8" x2="161.35" y2="492.3" stroke-width="1.2"/>
<line x1="167" y1="489.8" x2="167" y2="492.3" stroke-width="1.2"/>
<line x1="172.65" y1="489.8" x2="172.65" y2="492.3" stroke-width="1.2"/>
<line x1="178.3" y1="489.8" x2="178.3" y2="494.8" stroke-width="1.2"/>
<line x1="183.95" y1="489.8" x2="183.95" y2="492.3" stroke-width="1.2"/>
<line x1="189.6" y1="489.8" x2="189.6" y2="492.3" stroke-width="1.2"/>
<line x1="195.25" y1="489.8" x2="195.25" y2="492.3" stroke-width="1.2"/>
<line x1="200.9" y1="489.8" x2="200.9" y2="492.3" stroke-width="1.2"/>
<line x1="206.55" y1="489.8" x2="206.55" y2="494.8" stroke-width="1.2"/>
<line x1="212.2" y1="489.8" x2="212.2" y2="492.3" stroke-width="1.2"/>
<line x1="217.85" y1="489.8" x2="217.85" y2="492.3" stroke-width="1.2"/>
<line x1="223.5" y1="489.8" x2="223.5" y2="492.3" stroke-width="1.2"/>
<line x1="229.15" y1="489.8" x2="229.15" y2="492.3" stroke-width="1.2"/>
<line x1="234.8" y1="489.8" x2="234.8" y2="494.8" stroke-width="1.2"/>
<line x1="240.45" y1="489.8" x2="240.45" y2="492.3" stroke-width="1.2"/>
<line x1="246.1" y1="489.8" x2="246.1" y2="492.3" stroke-width="1.2"/>
<line x1="251.75" y1="489.8" x2="251.75" y2="492.3" stroke-width="1.2"/>
<line x1="257.4" y1="489.8" x2="257.4" y2="492.3" stroke-width="1.2"/>
<line x1="263.05" y1="489.8" x2="263.05" y2="494.8" stroke-width="1.2"/>
<line x1="268.7" y1="489.8" x2="268.7" y2="492.3" stroke-width="1.2"/>
<line x1="274.35" y1="489.8" x2="274.35" y2="492.3" stroke-width="1.2"/>
<line x1="280" y1="489.8" x2="280" y2="492.3" stroke-width="1.2"/>
<line x1="285.65" y1="489.8" x2="285.65" y2="492.3" stroke-width="1.2"/>
<line x1="291.3" y1="489.8" x2="291.3" y2="494.8" stroke-width="1.2"/>
<line x1="296.95" y1="489.8" x2="296.95" y2="492.3" stroke-width="1.2"/>
<line x1="302.6" y1="489.8" x2="302.6" y2="492.3" stroke-width="1.2"/>
</g>
<polyline points="30.9,473.3 31.92,477.74 32.95,483.96 33.86,487.07 35,481.3 36.14,468.86 37.05,459.98 37.73,458.21 38.41,461.76 39.33,475.97 40.12,487.69 55.5,487.69 56.64,484.85 57.78,485.74 58.92,487.69 72.58,487.69 73.72,483.07 74.41,487.07 74.8,484.67 75.09,475.08 75.47,481.47 76,483.07 76.91,486.18 77.51,484.14 77.94,475.97 78.32,482.36 78.85,483.96 79.65,486.62 80.11,485.03 80.44,478.63 80.87,485.03 81.47,486.62 82.27,483.96 83.06,479.52 83.97,483.96 85.11,487.69 87.39,486.62 88.53,470.64 89.33,452.88 89.72,451.28 90.01,444.89 90.35,449.86 90.81,451.1 91.49,454.66 92.06,453.77 92.49,463 93.09,465.31 94.22,475.97 95.59,483.07 96.73,487.07 97.64,479.52 98.1,477.21 98.44,467.98 98.82,481.47 99.35,484.85 100.49,475.97 101.08,474.01 101.51,466.2 101.9,474.01 102.43,475.97 103.56,483.07 104.7,486.18 105.84,475.97 106.75,471.08 107.23,476.41 107.89,477.74 109.26,485.74 111.31,487.51 112.68,484.85 113.59,480.41 114.39,477.3 114.82,483.34 115.41,484.85 117,487.51 119.28,486.62 120.42,479.52 121.11,465.31 121.56,426.24 122.02,403.15 122.7,399.6 123.38,401.38 124.07,433.34 124.98,459.98 126.12,472.42 127.48,480.41 128.96,484.85 130.67,487.51 132.38,485.74 133.75,483.07 134.66,486.18 135.46,479.52 136.25,475.08 136.68,480.05 137.28,481.3 138.65,486.62 140.92,487.51 142.63,481.3 143.77,468.86 144.34,466.2 145.14,470.64 146.05,458.21 146.64,454.83 147.07,441.34 147.99,445.78 148.9,458.21 150.26,474.19 151.74,483.07 153.45,486.62 155.16,487.51 156.87,485.74 159.15,483.07 160.29,487.07 162,484.85 163.7,481.3 164.84,479.52 165.98,470.64 166.64,469.04 167.12,462.65 167.46,470.46 167.92,472.42 168.83,468.86 169.62,467.09 170.2,459.98 171.11,460.87 172.02,472.42 173.04,475.97 173.96,467.09 174.64,465.31 175.07,473.84 175.66,475.97 177.37,483.07 179.08,486.62 181.36,487.51 183.07,483.07 183.73,481.56 184.21,475.52 184.68,482.98 185.34,484.85 186.71,487.51 187.62,481.3 188.53,476.23 189.11,480.99 189.9,482.18 191.61,486.62 194.46,487.69 205.85,487.69 207.56,485.74 209.26,487.69 212.68,487.51 213.82,485.74 214.96,487.51 217.24,486.62 218.83,482.18 220.08,485.74 221.79,487.51 223.5,481.3 224.64,479.52 225.78,465.31 226.69,463.54 227.6,463.54 228.03,474.9 228.63,477.74 229.77,484.85 230.91,475.97 231.57,474.55 232.04,468.86 232.52,475.97 233.18,477.74 234.32,484.85 235.46,470.64 236.6,452.88 237.63,451.99 238.06,466.91 238.65,470.64 239.79,477.74 240.93,472.42 241.73,459.1 242.52,458.65 243,471.08 243.66,474.19 245.14,481.3 246.85,486.18 247.99,477.74 248.65,475.97 249.13,468.86 249.81,468.86 250.24,477.39 250.84,479.52 252.32,485.74 253.69,477.74 254.6,474.19 255.74,479.52 257.1,484.85 258.81,487.51 265.08,487.51 266.78,485.29 268.49,487.51 271.91,487.51 273.05,485.74 274.76,487.51 279.88,487.51 281.59,484.85 283.07,480.41 284.21,478.63 285.58,479.52 287.29,483.07 288.99,485.74 290.7,487.51 305.51,487.69" fill="none" stroke="#800a80" stroke-width="1.2" stroke-linejoin="round"/>
<g font-family="Liberation Sans, sans-serif" font-size="11.8" fill="#201c30" stroke="#201c30" stroke-width="0.3">
<text x="65.3" y="504.9" text-anchor="middle">5.00</text>
<text x="121.8" y="504.9" text-anchor="middle">10.00</text>
<text x="178.3" y="504.9" text-anchor="middle">15.00</text>
<text x="234.8" y="504.9" text-anchor="middle">20.00</text>
<text x="291.3" y="504.9" text-anchor="middle">25.00</text>
<text x="23.2" y="403.2" text-anchor="end">100</text>
<text x="23.2" y="491.9" text-anchor="end">0</text>
<text transform="translate(23.6,443.2) rotate(-90)" text-anchor="middle">%</text>
<text x="309.73" y="494.5">Time</text>
<text x="122.8" y="397.3" text-anchor="middle" font-size="11.3" stroke-width="0.1" fill="#26222c">10.05</text>
<text x="89.3" y="442.3" text-anchor="middle" font-size="11.3" stroke-width="0.1" fill="#26222c">7.16</text>
<text x="48.8" y="448.7" text-anchor="middle" font-size="11.3" stroke-width="0.1" fill="#26222c">2.54</text>
<text x="75" y="471.4" text-anchor="middle" font-size="11.3" stroke-width="0.1" fill="#26222c">5.86</text>
<text x="147.4" y="438.7" text-anchor="middle" font-size="11.3" stroke-width="0.1" fill="#26222c">12.22</text>
<text x="171.3" y="456.7" text-anchor="middle" font-size="11.3" stroke-width="0.1" fill="#26222c">14.30</text>
<text x="204.1" y="460.6" text-anchor="middle" font-size="11.3" stroke-width="0.1" fill="#26222c">19.21</text>
<text x="235.8" y="449" text-anchor="middle" font-size="11.3" stroke-width="0.1" fill="#26222c">20.09</text>
<text x="270.3" y="464.9" text-anchor="middle" font-size="11.3" stroke-width="0.1" fill="#26222c">21.16</text>
<text x="305.2" y="476" text-anchor="middle" font-size="11.3" stroke-width="0.1" fill="#26222c">24.24</text>
</g>
<g stroke="#222" stroke-width="1" fill="none">
<line x1="43.7" y1="450" x2="37.3" y2="457"/>
<line x1="219.4" y1="458.3" x2="226.6" y2="461.6"/>
<line x1="254.8" y1="462.9" x2="247.6" y2="466.5"/>
<line x1="290.3" y1="473.2" x2="283.1" y2="476.8"/>
</g>
<polyline points="383.65,101.28 416.45,101.28 417,100.19 429.54,101.1 430.3,96.58 430.8,95.13 431.17,89.34 432.04,94.77 433.35,97.48 435.53,99.29 437.71,101.1 439.89,99.29 440.65,97.93 441.52,101.1 443.7,99.74 445.34,97.48 447.08,96.12 449.15,97.03 451.88,98.84 455.15,100.19 458.42,101.1 466.05,101.1 467.36,99.74 468.23,99.11 469.87,100.19 471.5,101.1 481.31,101.1 482.4,100.19 483.49,101.1 486.22,100.64 486.98,99.29 487.85,101.28 489.16,99.29 490.03,101.1 490.9,99.29 491.66,56.8 491.99,38.72 492.31,33.3 492.54,11.6 492.77,46.31 493.08,54.99 493.85,56.8 495.15,55.9 495.52,63.85 496.02,65.84 497.12,78.5 498.75,88.44 500.38,93.86 502.02,97.48 503.65,100.19 504.2,89.34 504.64,86.81 504.96,76.69 505.28,89.71 505.73,92.96 506.38,100.19 507.47,83.92 508.34,58.61 508.78,56.8 509.14,78.5 509.65,83.92 510.52,91.15 511.39,91.15 512.38,95.67 514.01,99.29 516.19,101.28 518.37,100.19 519.46,94.77 520.88,92.06 521.29,97.12 521.86,98.38 522.73,101.1 546.16,101.1 546.71,100.01 573.41,100.01 573.96,100.92 590.31,100.92 590.86,101.46 624.1,101.46 624.75,98.84 626.28,98.38 628.46,99.11 629.55,100.87 630.64,99.29 631.51,97.48 632.17,101.1 646.45,101.46" fill="none" stroke="#f01010" stroke-width="1.2" stroke-linejoin="round"/>
<g stroke="#000" fill="none">
<line x1="383.6" y1="11.1" x2="383.6" y2="103.4" stroke-width="2"/>
<line x1="377.6" y1="101.5" x2="382.6" y2="101.5" stroke-width="1.2"/>
<line x1="380.1" y1="92.51" x2="382.6" y2="92.51" stroke-width="1.2"/>
<line x1="380.1" y1="83.52" x2="382.6" y2="83.52" stroke-width="1.2"/>
<line x1="380.1" y1="74.53" x2="382.6" y2="74.53" stroke-width="1.2"/>
<line x1="380.1" y1="65.54" x2="382.6" y2="65.54" stroke-width="1.2"/>
<line x1="377.6" y1="56.55" x2="382.6" y2="56.55" stroke-width="1.2"/>
<line x1="380.1" y1="47.56" x2="382.6" y2="47.56" stroke-width="1.2"/>
<line x1="380.1" y1="38.57" x2="382.6" y2="38.57" stroke-width="1.2"/>
<line x1="380.1" y1="29.58" x2="382.6" y2="29.58" stroke-width="1.2"/>
<line x1="380.1" y1="20.59" x2="382.6" y2="20.59" stroke-width="1.2"/>
<line x1="377.6" y1="11.6" x2="382.6" y2="11.6" stroke-width="1.2"/>
<line x1="382.6" y1="102.5" x2="646.95" y2="102.5" stroke-width="2"/>
<line x1="384.3" y1="103" x2="384.3" y2="105.5" stroke-width="1.2"/>
<line x1="389.75" y1="103" x2="389.75" y2="108" stroke-width="1.2"/>
<line x1="395.2" y1="103" x2="395.2" y2="105.5" stroke-width="1.2"/>
<line x1="400.65" y1="103" x2="400.65" y2="105.5" stroke-width="1.2"/>
<line x1="406.1" y1="103" x2="406.1" y2="105.5" stroke-width="1.2"/>
<line x1="411.55" y1="103" x2="411.55" y2="105.5" stroke-width="1.2"/>
<line x1="417" y1="103" x2="417" y2="108" stroke-width="1.2"/>
<line x1="422.45" y1="103" x2="422.45" y2="105.5" stroke-width="1.2"/>
<line x1="427.9" y1="103" x2="427.9" y2="105.5" stroke-width="1.2"/>
<line x1="433.35" y1="103" x2="433.35" y2="105.5" stroke-width="1.2"/>
<line x1="438.8" y1="103" x2="438.8" y2="105.5" stroke-width="1.2"/>
<line x1="444.25" y1="103" x2="444.25" y2="108" stroke-width="1.2"/>
<line x1="449.7" y1="103" x2="449.7" y2="105.5" stroke-width="1.2"/>
<line x1="455.15" y1="103" x2="455.15" y2="105.5" stroke-width="1.2"/>
<line x1="460.6" y1="103" x2="460.6" y2="105.5" stroke-width="1.2"/>
<line x1="466.05" y1="103" x2="466.05" y2="105.5" stroke-width="1.2"/>
<line x1="471.5" y1="103" x2="471.5" y2="108" stroke-width="1.2"/>
<line x1="476.95" y1="103" x2="476.95" y2="105.5" stroke-width="1.2"/>
<line x1="482.4" y1="103" x2="482.4" y2="105.5" stroke-width="1.2"/>
<line x1="487.85" y1="103" x2="487.85" y2="105.5" stroke-width="1.2"/>
<line x1="493.3" y1="103" x2="493.3" y2="105.5" stroke-width="1.2"/>
<line x1="498.75" y1="103" x2="498.75" y2="108" stroke-width="1.2"/>
<line x1="504.2" y1="103" x2="504.2" y2="105.5" stroke-width="1.2"/>
<line x1="509.65" y1="103" x2="509.65" y2="105.5" stroke-width="1.2"/>
<line x1="515.1" y1="103" x2="515.1" y2="105.5" stroke-width="1.2"/>
<line x1="520.55" y1="103" x2="520.55" y2="105.5" stroke-width="1.2"/>
<line x1="526" y1="103" x2="526" y2="108" stroke-width="1.2"/>
<line x1="531.45" y1="103" x2="531.45" y2="105.5" stroke-width="1.2"/>
<line x1="536.9" y1="103" x2="536.9" y2="105.5" stroke-width="1.2"/>
<line x1="542.35" y1="103" x2="542.35" y2="105.5" stroke-width="1.2"/>
<line x1="547.8" y1="103" x2="547.8" y2="105.5" stroke-width="1.2"/>
<line x1="553.25" y1="103" x2="553.25" y2="108" stroke-width="1.2"/>
<line x1="558.7" y1="103" x2="558.7" y2="105.5" stroke-width="1.2"/>
<line x1="564.15" y1="103" x2="564.15" y2="105.5" stroke-width="1.2"/>
<line x1="569.6" y1="103" x2="569.6" y2="105.5" stroke-width="1.2"/>
<line x1="575.05" y1="103" x2="575.05" y2="105.5" stroke-width="1.2"/>
<line x1="580.5" y1="103" x2="580.5" y2="108" stroke-width="1.2"/>
<line x1="585.95" y1="103" x2="585.95" y2="105.5" stroke-width="1.2"/>
<line x1="591.4" y1="103" x2="591.4" y2="105.5" stroke-width="1.2"/>
<line x1="596.85" y1="103" x2="596.85" y2="105.5" stroke-width="1.2"/>
<line x1="602.3" y1="103" x2="602.3" y2="105.5" stroke-width="1.2"/>
<line x1="607.75" y1="103" x2="607.75" y2="108" stroke-width="1.2"/>
<line x1="613.2" y1="103" x2="613.2" y2="105.5" stroke-width="1.2"/>
<line x1="618.65" y1="103" x2="618.65" y2="105.5" stroke-width="1.2"/>
<line x1="624.1" y1="103" x2="624.1" y2="105.5" stroke-width="1.2"/>
<line x1="629.55" y1="103" x2="629.55" y2="105.5" stroke-width="1.2"/>
<line x1="635" y1="103" x2="635" y2="108" stroke-width="1.2"/>
<line x1="640.45" y1="103" x2="640.45" y2="105.5" stroke-width="1.2"/>
<line x1="645.9" y1="103" x2="645.9" y2="105.5" stroke-width="1.2"/>
</g>
<g font-family="Liberation Sans, sans-serif" font-size="11.4" fill="#201c30" stroke="#201c30" stroke-width="0.3">
<text x="417" y="119.1" text-anchor="middle">5.00</text>
<text x="471.5" y="119.1" text-anchor="middle">10.00</text>
<text x="526" y="119.1" text-anchor="middle">15.00</text>
<text x="580.5" y="119.1" text-anchor="middle">20.00</text>
<text x="635" y="119.1" text-anchor="middle">25.00</text>
<text x="376.6" y="15.9" text-anchor="end">100</text>
<text x="376.6" y="105.6" text-anchor="end">0</text>
<text transform="translate(377,56.05) rotate(-90)" text-anchor="middle">%</text>
<text x="652.45" y="107.7">Time</text>
<text x="493" y="8.52" text-anchor="middle" font-size="10.8" stroke-width="0.1" fill="#26222c">11.93</text>
<text x="430.7" y="86.22" text-anchor="middle" font-size="10.8" stroke-width="0.1" fill="#26222c">6.31</text>
<text x="457.7" y="86.92" text-anchor="middle" font-size="10.8" stroke-width="0.1" fill="#26222c">7.72</text>
<text x="508.5" y="46.32" text-anchor="middle" font-size="10.8" stroke-width="0.1" fill="#26222c">12.14</text>
<text x="524.8" y="81.02" text-anchor="middle" font-size="10.8" stroke-width="0.1" fill="#26222c">13.67</text>
<text x="631.6" y="94.42" text-anchor="middle" font-size="10.8" stroke-width="0.1" fill="#26222c">24.68</text>
</g>
<g stroke="#222" stroke-width="1" fill="none">
<line x1="453.5" y1="88.7" x2="447.1" y2="95.6"/>
<line x1="500.9" y1="47.5" x2="493.9" y2="54.7"/>
<line x1="516.5" y1="82.2" x2="510.6" y2="90.4"/>
</g>
<polyline points="383.65,226.08 386.48,225.9 387.9,224.56 389.75,225.45 391.93,226.08 415.91,226.08 417.55,225.45 418.85,224.83 421.36,225.72 423.54,225.01 424.41,222.31 424.74,220.88 425.5,225.01 426.81,225.9 430.62,225.9 431.17,214.24 431.61,208.86 431.88,216.04 432.26,217.83 432.91,225.9 438.8,225.9 439.89,223.21 440.65,222.49 441.85,225.9 443.7,225.9 445.34,216.04 446.65,208.86 447.85,207.07 449.15,208.86 450.79,213.34 452.97,217.83 455.15,220.52 457.33,222.31 459.51,225.01 460.06,216.04 460.49,214.24 460.72,220.7 461.04,222.31 462.24,224.11 463.87,225.9 464.96,223.66 466.05,225.01 467.69,225.9 468.77,224.56 469.87,225.9 472.59,225.45 474.77,226.08 481.64,226.08 481.96,216.04 482.4,214.24 482.94,216.04 483.27,225.9 486.76,225.9 487.85,224.11 488.18,223.21 488.94,226.08 490.03,222.31 490.79,218.73 491.56,217.83 492.21,190.92 492.59,180.16 492.86,137.1 493.14,145.71 493.52,147.86 494.39,181.95 495.04,176.57 495.7,153.25 496.46,149.66 496.78,168.32 497.22,172.98 498.2,204.38 499.3,217.83 500.93,223.66 503.11,225.9 504.42,225.9 504.75,215.14 504.96,213.7 505.19,223.1 505.51,225.45 506.93,225.45 508.12,221.42 508.56,211.55 509,210.65 509.27,219.27 509.65,221.42 510.74,225.45 512.92,223.66 517.28,222.76 521.64,223.03 524.91,224.11 527.09,225.9 528.73,225.9 529.49,222.76 530.36,222.31 531.45,225.45 532.54,224.11 534.17,225.9 536.9,226.08 624.1,226.08 625.19,225.01 626.28,225.01 627.37,226.08 646.45,226.08" fill="none" stroke="#0f7a0f" stroke-width="1.2" stroke-linejoin="round"/>
<g stroke="#000" fill="none">
<line x1="383.6" y1="136.6" x2="383.6" y2="228.1" stroke-width="2"/>
<line x1="377.6" y1="226.6" x2="382.6" y2="226.6" stroke-width="1.2"/>
<line x1="380.1" y1="217.65" x2="382.6" y2="217.65" stroke-width="1.2"/>
<line x1="380.1" y1="208.7" x2="382.6" y2="208.7" stroke-width="1.2"/>
<line x1="380.1" y1="199.75" x2="382.6" y2="199.75" stroke-width="1.2"/>
<line x1="380.1" y1="190.8" x2="382.6" y2="190.8" stroke-width="1.2"/>
<line x1="377.6" y1="181.85" x2="382.6" y2="181.85" stroke-width="1.2"/>
<line x1="380.1" y1="172.9" x2="382.6" y2="172.9" stroke-width="1.2"/>
<line x1="380.1" y1="163.95" x2="382.6" y2="163.95" stroke-width="1.2"/>
<line x1="380.1" y1="155" x2="382.6" y2="155" stroke-width="1.2"/>
<line x1="380.1" y1="146.05" x2="382.6" y2="146.05" stroke-width="1.2"/>
<line x1="377.6" y1="137.1" x2="382.6" y2="137.1" stroke-width="1.2"/>
<line x1="382.6" y1="227.2" x2="646.95" y2="227.2" stroke-width="2"/>
<line x1="384.3" y1="227.7" x2="384.3" y2="230.2" stroke-width="1.2"/>
<line x1="389.75" y1="227.7" x2="389.75" y2="232.7" stroke-width="1.2"/>
<line x1="395.2" y1="227.7" x2="395.2" y2="230.2" stroke-width="1.2"/>
<line x1="400.65" y1="227.7" x2="400.65" y2="230.2" stroke-width="1.2"/>
<line x1="406.1" y1="227.7" x2="406.1" y2="230.2" stroke-width="1.2"/>
<line x1="411.55" y1="227.7" x2="411.55" y2="230.2" stroke-width="1.2"/>
<line x1="417" y1="227.7" x2="417" y2="232.7" stroke-width="1.2"/>
<line x1="422.45" y1="227.7" x2="422.45" y2="230.2" stroke-width="1.2"/>
<line x1="427.9" y1="227.7" x2="427.9" y2="230.2" stroke-width="1.2"/>
<line x1="433.35" y1="227.7" x2="433.35" y2="230.2" stroke-width="1.2"/>
<line x1="438.8" y1="227.7" x2="438.8" y2="230.2" stroke-width="1.2"/>
<line x1="444.25" y1="227.7" x2="444.25" y2="232.7" stroke-width="1.2"/>
<line x1="449.7" y1="227.7" x2="449.7" y2="230.2" stroke-width="1.2"/>
<line x1="455.15" y1="227.7" x2="455.15" y2="230.2" stroke-width="1.2"/>
<line x1="460.6" y1="227.7" x2="460.6" y2="230.2" stroke-width="1.2"/>
<line x1="466.05" y1="227.7" x2="466.05" y2="230.2" stroke-width="1.2"/>
<line x1="471.5" y1="227.7" x2="471.5" y2="232.7" stroke-width="1.2"/>
<line x1="476.95" y1="227.7" x2="476.95" y2="230.2" stroke-width="1.2"/>
<line x1="482.4" y1="227.7" x2="482.4" y2="230.2" stroke-width="1.2"/>
<line x1="487.85" y1="227.7" x2="487.85" y2="230.2" stroke-width="1.2"/>
<line x1="493.3" y1="227.7" x2="493.3" y2="230.2" stroke-width="1.2"/>
<line x1="498.75" y1="227.7" x2="498.75" y2="232.7" stroke-width="1.2"/>
<line x1="504.2" y1="227.7" x2="504.2" y2="230.2" stroke-width="1.2"/>
<line x1="509.65" y1="227.7" x2="509.65" y2="230.2" stroke-width="1.2"/>
<line x1="515.1" y1="227.7" x2="515.1" y2="230.2" stroke-width="1.2"/>
<line x1="520.55" y1="227.7" x2="520.55" y2="230.2" stroke-width="1.2"/>
<line x1="526" y1="227.7" x2="526" y2="232.7" stroke-width="1.2"/>
<line x1="531.45" y1="227.7" x2="531.45" y2="230.2" stroke-width="1.2"/>
<line x1="536.9" y1="227.7" x2="536.9" y2="230.2" stroke-width="1.2"/>
<line x1="542.35" y1="227.7" x2="542.35" y2="230.2" stroke-width="1.2"/>
<line x1="547.8" y1="227.7" x2="547.8" y2="230.2" stroke-width="1.2"/>
<line x1="553.25" y1="227.7" x2="553.25" y2="232.7" stroke-width="1.2"/>
<line x1="558.7" y1="227.7" x2="558.7" y2="230.2" stroke-width="1.2"/>
<line x1="564.15" y1="227.7" x2="564.15" y2="230.2" stroke-width="1.2"/>
<line x1="569.6" y1="227.7" x2="569.6" y2="230.2" stroke-width="1.2"/>
<line x1="575.05" y1="227.7" x2="575.05" y2="230.2" stroke-width="1.2"/>
<line x1="580.5" y1="227.7" x2="580.5" y2="232.7" stroke-width="1.2"/>
<line x1="585.95" y1="227.7" x2="585.95" y2="230.2" stroke-width="1.2"/>
<line x1="591.4" y1="227.7" x2="591.4" y2="230.2" stroke-width="1.2"/>
<line x1="596.85" y1="227.7" x2="596.85" y2="230.2" stroke-width="1.2"/>
<line x1="602.3" y1="227.7" x2="602.3" y2="230.2" stroke-width="1.2"/>
<line x1="607.75" y1="227.7" x2="607.75" y2="232.7" stroke-width="1.2"/>
<line x1="613.2" y1="227.7" x2="613.2" y2="230.2" stroke-width="1.2"/>
<line x1="618.65" y1="227.7" x2="618.65" y2="230.2" stroke-width="1.2"/>
<line x1="624.1" y1="227.7" x2="624.1" y2="230.2" stroke-width="1.2"/>
<line x1="629.55" y1="227.7" x2="629.55" y2="230.2" stroke-width="1.2"/>
<line x1="635" y1="227.7" x2="635" y2="232.7" stroke-width="1.2"/>
<line x1="640.45" y1="227.7" x2="640.45" y2="230.2" stroke-width="1.2"/>
<line x1="645.9" y1="227.7" x2="645.9" y2="230.2" stroke-width="1.2"/>
</g>
<g font-family="Liberation Sans, sans-serif" font-size="11.4" fill="#201c30" stroke="#201c30" stroke-width="0.3">
<text x="417" y="243.3" text-anchor="middle">5.00</text>
<text x="471.5" y="243.3" text-anchor="middle">10.00</text>
<text x="526" y="243.3" text-anchor="middle">15.00</text>
<text x="580.5" y="243.3" text-anchor="middle">20.00</text>
<text x="635" y="243.3" text-anchor="middle">25.00</text>
<text x="376.6" y="141.4" text-anchor="end">100</text>
<text x="376.6" y="230.7" text-anchor="end">0</text>
<text transform="translate(377,181.35) rotate(-90)" text-anchor="middle">%</text>
<text x="652.45" y="232.2">Time</text>
<text x="493" y="134.22" text-anchor="middle" font-size="10.8" stroke-width="0.1" fill="#26222c">11.96</text>
<text x="421" y="199.22" text-anchor="middle" font-size="10.8" stroke-width="0.1" fill="#26222c">6.35</text>
<text x="448.1" y="204.12" text-anchor="middle" font-size="10.8" stroke-width="0.1" fill="#26222c">7.84</text>
<text x="471.5" y="203.62" text-anchor="middle" font-size="10.8" stroke-width="0.1" fill="#26222c">9.00</text>
<text x="405.7" y="218.22" text-anchor="middle" font-size="10.8" stroke-width="0.1" fill="#26222c">5.72</text>
<text x="523.1" y="200.42" text-anchor="middle" font-size="10.8" stroke-width="0.1" fill="#26222c">13.44</text>
<text x="552.4" y="218.92" text-anchor="middle" font-size="10.8" stroke-width="0.1" fill="#26222c">15.39</text>
<text x="625.7" y="222.12" text-anchor="middle" font-size="10.8" stroke-width="0.1" fill="#26222c">24.16</text>
</g>
<g stroke="#222" stroke-width="1" fill="none">
<line x1="425.3" y1="200.2" x2="432.2" y2="206.6"/>
<line x1="467.2" y1="204.8" x2="460.5" y2="212"/>
<line x1="418.1" y1="215.1" x2="425.3" y2="218.5"/>
<line x1="515" y1="201.7" x2="508.3" y2="208.6"/>
<line x1="537.6" y1="216.3" x2="529.9" y2="220.2"/>
</g>
<polyline points="383.65,353.37 422.45,353.37 424.63,352.74 426.81,353.37 430.08,353.19 430.95,347.75 431.61,345.03 432.48,350.47 433.35,353.19 438.8,353.19 439.89,352.47 440.65,352.29 442.07,351.83 443.7,345.94 445.12,340.5 446.32,339.13 447.52,340.04 449.7,342.76 452.43,345.48 455.15,347.75 458.42,349.56 461.69,350.93 464.96,352.29 467.14,353.37 468.77,351.38 469.32,343.22 469.65,341.86 469.88,347.3 470.19,348.66 470.95,353.37 473.68,352.74 475.86,353.37 480.76,353.37 481.64,341.4 482.4,339.59 483.05,342.31 483.71,347.75 484.58,353.19 487.31,353.19 488.39,351.38 489.49,353.19 490.25,349.56 491.34,351.83 491.88,294.24 492.21,292.42 492.4,286.62 492.54,263.4 492.72,295.33 492.97,303.31 493.3,308.75 493.74,350.93 494.61,346.84 495.92,346.39 497.12,351.38 498.75,348.66 500.38,350.02 502.02,351.38 503.65,353.19 503.97,351.74 504.2,345.94 504.64,345.94 504.82,351.02 505.07,352.29 507.47,353.37 508.34,344.12 509,343.76 509.18,350.58 509.43,352.29 510.74,352.74 514.01,353.37 530.9,353.37 531.67,351.83 532.76,351.2 533.85,351.83 534.72,353.37 624.1,353.37 625.19,352.74 627.37,352.74 628.46,353.37 646.45,353.37" fill="none" stroke="#111111" stroke-width="1.0" stroke-linejoin="round"/>
<g stroke="#000" fill="none">
<line x1="383.6" y1="262.9" x2="383.6" y2="355.5" stroke-width="2"/>
<line x1="377.6" y1="353.6" x2="382.6" y2="353.6" stroke-width="1.2"/>
<line x1="380.1" y1="344.58" x2="382.6" y2="344.58" stroke-width="1.2"/>
<line x1="380.1" y1="335.56" x2="382.6" y2="335.56" stroke-width="1.2"/>
<line x1="380.1" y1="326.54" x2="382.6" y2="326.54" stroke-width="1.2"/>
<line x1="380.1" y1="317.52" x2="382.6" y2="317.52" stroke-width="1.2"/>
<line x1="377.6" y1="308.5" x2="382.6" y2="308.5" stroke-width="1.2"/>
<line x1="380.1" y1="299.48" x2="382.6" y2="299.48" stroke-width="1.2"/>
<line x1="380.1" y1="290.46" x2="382.6" y2="290.46" stroke-width="1.2"/>
<line x1="380.1" y1="281.44" x2="382.6" y2="281.44" stroke-width="1.2"/>
<line x1="380.1" y1="272.42" x2="382.6" y2="272.42" stroke-width="1.2"/>
<line x1="377.6" y1="263.4" x2="382.6" y2="263.4" stroke-width="1.2"/>
<line x1="382.6" y1="354.6" x2="646.95" y2="354.6" stroke-width="2"/>
<line x1="384.3" y1="355.1" x2="384.3" y2="357.6" stroke-width="1.2"/>
<line x1="389.75" y1="355.1" x2="389.75" y2="360.1" stroke-width="1.2"/>
<line x1="395.2" y1="355.1" x2="395.2" y2="357.6" stroke-width="1.2"/>
<line x1="400.65" y1="355.1" x2="400.65" y2="357.6" stroke-width="1.2"/>
<line x1="406.1" y1="355.1" x2="406.1" y2="357.6" stroke-width="1.2"/>
<line x1="411.55" y1="355.1" x2="411.55" y2="357.6" stroke-width="1.2"/>
<line x1="417" y1="355.1" x2="417" y2="360.1" stroke-width="1.2"/>
<line x1="422.45" y1="355.1" x2="422.45" y2="357.6" stroke-width="1.2"/>
<line x1="427.9" y1="355.1" x2="427.9" y2="357.6" stroke-width="1.2"/>
<line x1="433.35" y1="355.1" x2="433.35" y2="357.6" stroke-width="1.2"/>
<line x1="438.8" y1="355.1" x2="438.8" y2="357.6" stroke-width="1.2"/>
<line x1="444.25" y1="355.1" x2="444.25" y2="360.1" stroke-width="1.2"/>
<line x1="449.7" y1="355.1" x2="449.7" y2="357.6" stroke-width="1.2"/>
<line x1="455.15" y1="355.1" x2="455.15" y2="357.6" stroke-width="1.2"/>
<line x1="460.6" y1="355.1" x2="460.6" y2="357.6" stroke-width="1.2"/>
<line x1="466.05" y1="355.1" x2="466.05" y2="357.6" stroke-width="1.2"/>
<line x1="471.5" y1="355.1" x2="471.5" y2="360.1" stroke-width="1.2"/>
<line x1="476.95" y1="355.1" x2="476.95" y2="357.6" stroke-width="1.2"/>
<line x1="482.4" y1="355.1" x2="482.4" y2="357.6" stroke-width="1.2"/>
<line x1="487.85" y1="355.1" x2="487.85" y2="357.6" stroke-width="1.2"/>
<line x1="493.3" y1="355.1" x2="493.3" y2="357.6" stroke-width="1.2"/>
<line x1="498.75" y1="355.1" x2="498.75" y2="360.1" stroke-width="1.2"/>
<line x1="504.2" y1="355.1" x2="504.2" y2="357.6" stroke-width="1.2"/>
<line x1="509.65" y1="355.1" x2="509.65" y2="357.6" stroke-width="1.2"/>
<line x1="515.1" y1="355.1" x2="515.1" y2="357.6" stroke-width="1.2"/>
<line x1="520.55" y1="355.1" x2="520.55" y2="357.6" stroke-width="1.2"/>
<line x1="526" y1="355.1" x2="526" y2="360.1" stroke-width="1.2"/>
<line x1="531.45" y1="355.1" x2="531.45" y2="357.6" stroke-width="1.2"/>
<line x1="536.9" y1="355.1" x2="536.9" y2="357.6" stroke-width="1.2"/>
<line x1="542.35" y1="355.1" x2="542.35" y2="357.6" stroke-width="1.2"/>
<line x1="547.8" y1="355.1" x2="547.8" y2="357.6" stroke-width="1.2"/>
<line x1="553.25" y1="355.1" x2="553.25" y2="360.1" stroke-width="1.2"/>
<line x1="558.7" y1="355.1" x2="558.7" y2="357.6" stroke-width="1.2"/>
<line x1="564.15" y1="355.1" x2="564.15" y2="357.6" stroke-width="1.2"/>
<line x1="569.6" y1="355.1" x2="569.6" y2="357.6" stroke-width="1.2"/>
<line x1="575.05" y1="355.1" x2="575.05" y2="357.6" stroke-width="1.2"/>
<line x1="580.5" y1="355.1" x2="580.5" y2="360.1" stroke-width="1.2"/>
<line x1="585.95" y1="355.1" x2="585.95" y2="357.6" stroke-width="1.2"/>
<line x1="591.4" y1="355.1" x2="591.4" y2="357.6" stroke-width="1.2"/>
<line x1="596.85" y1="355.1" x2="596.85" y2="357.6" stroke-width="1.2"/>
<line x1="602.3" y1="355.1" x2="602.3" y2="357.6" stroke-width="1.2"/>
<line x1="607.75" y1="355.1" x2="607.75" y2="360.1" stroke-width="1.2"/>
<line x1="613.2" y1="355.1" x2="613.2" y2="357.6" stroke-width="1.2"/>
<line x1="618.65" y1="355.1" x2="618.65" y2="357.6" stroke-width="1.2"/>
<line x1="624.1" y1="355.1" x2="624.1" y2="357.6" stroke-width="1.2"/>
<line x1="629.55" y1="355.1" x2="629.55" y2="357.6" stroke-width="1.2"/>
<line x1="635" y1="355.1" x2="635" y2="360.1" stroke-width="1.2"/>
<line x1="640.45" y1="355.1" x2="640.45" y2="357.6" stroke-width="1.2"/>
<line x1="645.9" y1="355.1" x2="645.9" y2="357.6" stroke-width="1.2"/>
</g>
<g font-family="Liberation Sans, sans-serif" font-size="11.4" fill="#201c30" stroke="#201c30" stroke-width="0.3">
<text x="417" y="370.7" text-anchor="middle">5.00</text>
<text x="471.5" y="370.7" text-anchor="middle">10.00</text>
<text x="526" y="370.7" text-anchor="middle">15.00</text>
<text x="580.5" y="370.7" text-anchor="middle">20.00</text>
<text x="635" y="370.7" text-anchor="middle">25.00</text>
<text x="376.6" y="267.7" text-anchor="end">100</text>
<text x="376.6" y="357.7" text-anchor="end">0</text>
<text transform="translate(377,308) rotate(-90)" text-anchor="middle">%</text>
<text x="652.45" y="359.6">Time</text>
<text x="493" y="261.12" text-anchor="middle" font-size="10.8" stroke-width="0.1" fill="#26222c">11.94</text>
<text x="420.3" y="334.42" text-anchor="middle" font-size="10.8" stroke-width="0.1" fill="#26222c">6.33</text>
<text x="446.2" y="336.22" text-anchor="middle" font-size="10.8" stroke-width="0.1" fill="#26222c">7.72</text>
<text x="470" y="338.72" text-anchor="middle" font-size="10.8" stroke-width="0.1" fill="#26222c">9.84</text>
<text x="509.4" y="340.72" text-anchor="middle" font-size="10.8" stroke-width="0.1" fill="#26222c">13.39</text>
<text x="547.6" y="340.72" text-anchor="middle" font-size="10.8" stroke-width="0.1" fill="#26222c">15.63</text>
</g>
<g stroke="#222" stroke-width="1" fill="none">
<line x1="425.3" y1="336.1" x2="431.7" y2="343.1"/>
<line x1="538.9" y1="342" x2="532.5" y2="350.2"/>
</g>
<polyline points="383.65,481 385.39,480.1 386.48,481 388.66,480.55 389.75,480.1 391.93,481 419.18,481 420.27,479.2 422.45,478.75 424.08,479.65 425.72,481 426.81,479.2 427.9,478.3 428.77,480.77 429.64,476.5 430.3,475.6 431.17,481 432.7,479.2 433.24,454.9 433.49,450.58 433.68,433.3 434.33,438.7 434.77,463.9 435.53,472 436.62,475.6 437.93,477.4 439.89,479.2 441.52,480.77 442.29,476.5 443.16,476.05 443.81,480.1 446.43,481.18 448.06,479.65 449.7,481.18 450.79,479.2 451.66,472.9 452.21,470.65 452.53,475.33 452.97,476.5 454.06,479.2 456.24,481 458.42,480.1 460.6,481 465.5,481 466.05,476.5 466.6,476.32 467.36,480.1 468.77,481 469.87,478.3 470.74,477.4 471.5,481.18 473.68,479.65 475.31,481 481.31,481 482.94,478.3 483.82,476.95 485.12,479.2 486.76,481.18 488.94,480.1 490.57,479.65 491.66,478.3 492.43,477.4 492.97,441.4 493.3,393.7 494.06,391.9 494.29,431.5 494.61,441.4 495.48,441.4 495.75,456.52 496.13,460.3 497.22,461.2 498.2,467.5 499.84,471.1 502.02,474.7 504.2,479.2 504.85,479.2 505.29,460.3 505.73,458.5 506,472.9 506.38,476.5 508.34,480.1 509,456.7 509.31,455.53 509.54,450.85 509.77,455.53 510.09,456.7 510.63,470.2 511.83,474.7 513.14,477.4 515.1,479.2 517.83,481 519.46,479.2 521.1,480.55 524.91,481 532.54,481 534.72,479.65 536.03,477.85 536.9,477.4 537.99,479.65 539.08,481 624.1,481 625.19,480.1 627.37,480.1 628.46,481 646.45,481" fill="none" stroke="#800a80" stroke-width="1.2" stroke-linejoin="round"/>
<g stroke="#000" fill="none">
<line x1="383.6" y1="391.4" x2="383.6" y2="483.3" stroke-width="2"/>
<line x1="377.6" y1="481.4" x2="382.6" y2="481.4" stroke-width="1.2"/>
<line x1="380.1" y1="472.45" x2="382.6" y2="472.45" stroke-width="1.2"/>
<line x1="380.1" y1="463.5" x2="382.6" y2="463.5" stroke-width="1.2"/>
<line x1="380.1" y1="454.55" x2="382.6" y2="454.55" stroke-width="1.2"/>
<line x1="380.1" y1="445.6" x2="382.6" y2="445.6" stroke-width="1.2"/>
<line x1="377.6" y1="436.65" x2="382.6" y2="436.65" stroke-width="1.2"/>
<line x1="380.1" y1="427.7" x2="382.6" y2="427.7" stroke-width="1.2"/>
<line x1="380.1" y1="418.75" x2="382.6" y2="418.75" stroke-width="1.2"/>
<line x1="380.1" y1="409.8" x2="382.6" y2="409.8" stroke-width="1.2"/>
<line x1="380.1" y1="400.85" x2="382.6" y2="400.85" stroke-width="1.2"/>
<line x1="377.6" y1="391.9" x2="382.6" y2="391.9" stroke-width="1.2"/>
<line x1="382.6" y1="482.4" x2="646.95" y2="482.4" stroke-width="2"/>
<line x1="384.3" y1="482.9" x2="384.3" y2="485.4" stroke-width="1.2"/>
<line x1="389.75" y1="482.9" x2="389.75" y2="487.9" stroke-width="1.2"/>
<line x1="395.2" y1="482.9" x2="395.2" y2="485.4" stroke-width="1.2"/>
<line x1="400.65" y1="482.9" x2="400.65" y2="485.4" stroke-width="1.2"/>
<line x1="406.1" y1="482.9" x2="406.1" y2="485.4" stroke-width="1.2"/>
<line x1="411.55" y1="482.9" x2="411.55" y2="485.4" stroke-width="1.2"/>
<line x1="417" y1="482.9" x2="417" y2="487.9" stroke-width="1.2"/>
<line x1="422.45" y1="482.9" x2="422.45" y2="485.4" stroke-width="1.2"/>
<line x1="427.9" y1="482.9" x2="427.9" y2="485.4" stroke-width="1.2"/>
<line x1="433.35" y1="482.9" x2="433.35" y2="485.4" stroke-width="1.2"/>
<line x1="438.8" y1="482.9" x2="438.8" y2="485.4" stroke-width="1.2"/>
<line x1="444.25" y1="482.9" x2="444.25" y2="487.9" stroke-width="1.2"/>
<line x1="449.7" y1="482.9" x2="449.7" y2="485.4" stroke-width="1.2"/>
<line x1="455.15" y1="482.9" x2="455.15" y2="485.4" stroke-width="1.2"/>
<line x1="460.6" y1="482.9" x2="460.6" y2="485.4" stroke-width="1.2"/>
<line x1="466.05" y1="482.9" x2="466.05" y2="485.4" stroke-width="1.2"/>
<line x1="471.5" y1="482.9" x2="471.5" y2="487.9" stroke-width="1.2"/>
<line x1="476.95" y1="482.9" x2="476.95" y2="485.4" stroke-width="1.2"/>
<line x1="482.4" y1="482.9" x2="482.4" y2="485.4" stroke-width="1.2"/>
<line x1="487.85" y1="482.9" x2="487.85" y2="485.4" stroke-width="1.2"/>
<line x1="493.3" y1="482.9" x2="493.3" y2="485.4" stroke-width="1.2"/>
<line x1="498.75" y1="482.9" x2="498.75" y2="487.9" stroke-width="1.2"/>
<line x1="504.2" y1="482.9" x2="504.2" y2="485.4" stroke-width="1.2"/>
<line x1="509.65" y1="482.9" x2="509.65" y2="485.4" stroke-width="1.2"/>
<line x1="515.1" y1="482.9" x2="515.1" y2="485.4" stroke-width="1.2"/>
<line x1="520.55" y1="482.9" x2="520.55" y2="485.4" stroke-width="1.2"/>
<line x1="526" y1="482.9" x2="526" y2="487.9" stroke-width="1.2"/>
<line x1="531.45" y1="482.9" x2="531.45" y2="485.4" stroke-width="1.2"/>
<line x1="536.9" y1="482.9" x2="536.9" y2="485.4" stroke-width="1.2"/>
<line x1="542.35" y1="482.9" x2="542.35" y2="485.4" stroke-width="1.2"/>
<line x1="547.8" y1="482.9" x2="547.8" y2="485.4" stroke-width="1.2"/>
<line x1="553.25" y1="482.9" x2="553.25" y2="487.9" stroke-width="1.2"/>
<line x1="558.7" y1="482.9" x2="558.7" y2="485.4" stroke-width="1.2"/>
<line x1="564.15" y1="482.9" x2="564.15" y2="485.4" stroke-width="1.2"/>
<line x1="569.6" y1="482.9" x2="569.6" y2="485.4" stroke-width="1.2"/>
<line x1="575.05" y1="482.9" x2="575.05" y2="485.4" stroke-width="1.2"/>
<line x1="580.5" y1="482.9" x2="580.5" y2="487.9" stroke-width="1.2"/>
<line x1="585.95" y1="482.9" x2="585.95" y2="485.4" stroke-width="1.2"/>
<line x1="591.4" y1="482.9" x2="591.4" y2="485.4" stroke-width="1.2"/>
<line x1="596.85" y1="482.9" x2="596.85" y2="485.4" stroke-width="1.2"/>
<line x1="602.3" y1="482.9" x2="602.3" y2="485.4" stroke-width="1.2"/>
<line x1="607.75" y1="482.9" x2="607.75" y2="487.9" stroke-width="1.2"/>
<line x1="613.2" y1="482.9" x2="613.2" y2="485.4" stroke-width="1.2"/>
<line x1="618.65" y1="482.9" x2="618.65" y2="485.4" stroke-width="1.2"/>
<line x1="624.1" y1="482.9" x2="624.1" y2="485.4" stroke-width="1.2"/>
<line x1="629.55" y1="482.9" x2="629.55" y2="485.4" stroke-width="1.2"/>
<line x1="635" y1="482.9" x2="635" y2="487.9" stroke-width="1.2"/>
<line x1="640.45" y1="482.9" x2="640.45" y2="485.4" stroke-width="1.2"/>
<line x1="645.9" y1="482.9" x2="645.9" y2="485.4" stroke-width="1.2"/>
</g>
<g font-family="Liberation Sans, sans-serif" font-size="11.4" fill="#201c30" stroke="#201c30" stroke-width="0.3">
<text x="417" y="498.5" text-anchor="middle">5.00</text>
<text x="471.5" y="498.5" text-anchor="middle">10.00</text>
<text x="526" y="498.5" text-anchor="middle">15.00</text>
<text x="580.5" y="498.5" text-anchor="middle">20.00</text>
<text x="635" y="498.5" text-anchor="middle">25.00</text>
<text x="376.6" y="396.2" text-anchor="end">100</text>
<text x="376.6" y="485.5" text-anchor="end">0</text>
<text transform="translate(377,436.15) rotate(-90)" text-anchor="middle">%</text>
<text x="652.45" y="487.4">Time</text>
<text x="494.7" y="388.92" text-anchor="middle" font-size="10.8" stroke-width="0.1" fill="#26222c">12.07</text>
<text x="433.9" y="430.02" text-anchor="middle" font-size="10.8" stroke-width="0.1" fill="#26222c">6.58</text>
<text x="418.4" y="466.82" text-anchor="middle" font-size="10.8" stroke-width="0.1" fill="#26222c">6.14</text>
<text x="451.6" y="467.82" text-anchor="middle" font-size="10.8" stroke-width="0.1" fill="#26222c">8.21</text>
<text x="476.9" y="466.82" text-anchor="middle" font-size="10.8" stroke-width="0.1" fill="#26222c">9.54</text>
<text x="510.3" y="448.02" text-anchor="middle" font-size="10.8" stroke-width="0.1" fill="#26222c">13.54</text>
<text x="537.9" y="474.42" text-anchor="middle" font-size="10.8" stroke-width="0.1" fill="#26222c">16.00</text>
</g>
<g stroke="#222" stroke-width="1" fill="none">
<line x1="424" y1="468.5" x2="429.6" y2="474.5"/>
<line x1="472.8" y1="468" x2="465.9" y2="475"/>
</g>
<g font-family="Liberation Serif, serif" font-size="23" fill="#222">
<text x="297.3" y="20.4">ESI+</text>
<text x="297" y="66.8">A</text>
<text x="302.5" y="187.3">B</text>
<text x="303.1" y="307.3">C</text>
<text x="297.5" y="434.2">D</text>
<text x="644.6" y="17.3" font-size="22">ESI-</text>
<text x="644.3" y="73.3">A</text>
<text x="649" y="200.2">B</text>
<text x="646.8" y="331.9">C</text>
<text x="646.6" y="459.1">D</text>
</g>
</svg>
</body></html>
